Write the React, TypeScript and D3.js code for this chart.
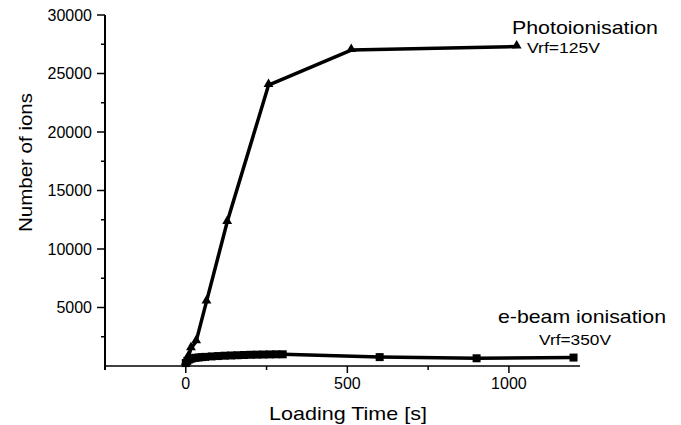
import React from "react";
import * as d3 from "d3";

const photoTime = [0, 8, 16, 32, 64, 128, 256, 512, 1024];
const photoIons = [250, 800, 1500, 2100, 5500, 12300, 24000, 27000, 27300];

const ebeamTime = [0, 5, 10, 15, 20, 30, 40, 50, 60, 80, 100, 120, 140, 160, 180, 200, 220, 240, 260, 280, 300, 600, 900, 1200];
const ebeamIons = [250, 450, 560, 620, 660, 700, 730, 760, 780, 820, 850, 880, 900, 920, 940, 960, 970, 980, 990, 1000, 1000, 760, 660, 720];

const xMajorTicks = [0, 500, 1000];
const xMinorTicks = [-250, 250, 750];
const yMajorTicks = [5000, 10000, 15000, 20000, 25000, 30000];
const yMinorTicks = [2500, 7500, 12500, 17500, 22500, 27500];

const FONT = "'Liberation Sans', Arial, Helvetica, sans-serif";

export default function App() {
  const W = 681, H = 425;
  const x = d3.scaleLinear().domain([-250, 1220]).range([105, 580]);
  const y = d3.scaleLinear().domain([0, 30000]).range([366, 15]);
  const line = d3.line<[number, number]>().x(d => x(d[0])).y(d => y(d[1]));
  const photo: [number, number][] = photoTime.map((t, i) => [t, photoIons[i]]);
  const ebeam: [number, number][] = ebeamTime.map((t, i) => [t, ebeamIons[i]]);
  const tri = d3.symbol().type(d3.symbolTriangle).size(42)();
  const x0 = x.range()[0];
  const y0 = y.range()[0];

  return (
    <svg width={W} height={H} style={{ position: "absolute", left: 0, top: 0, background: "#fff" }} fontFamily={FONT}>
      <rect x={0} y={0} width={W} height={H} fill="#fff" />
      {/* data */}
      <path d={line(ebeam) || ""} fill="none" stroke="#000" strokeWidth={3.5} strokeLinejoin="round" />
      {ebeam.map((d, i) => (
        <rect key={"e" + i} x={x(d[0]) - 4} y={y(d[1]) - 4} width={8} height={8} fill="#000" />
      ))}
      <path d={line(photo) || ""} fill="none" stroke="#000" strokeWidth={3.5} strokeLinejoin="round" />
      {photo.map((d, i) => (
        <path key={"p" + i} d={tri || ""} transform={`translate(${x(d[0])},${y(d[1]) - 1})`} fill="#000" />
      ))}
      {/* axes */}
      <line x1={x0} x2={x0} y1={15} y2={y0 + 4} stroke="#000" strokeWidth={2} />
      <line x1={x0} x2={x.range()[1]} y1={y0} y2={y0} stroke="#000" strokeWidth={1.5} />
      {yMajorTicks.map(v => (
        <g key={"ym" + v}>
          <line x1={x0 - 8} x2={x0} y1={y(v)} y2={y(v)} stroke="#000" strokeWidth={1.5} />
          <text x={x0 - 13} y={y(v)} dy="0.36em" textAnchor="end" fontSize={16}>{v}</text>
        </g>
      ))}
      {yMinorTicks.map(v => (
        <line key={"yn" + v} x1={x0 - 4} x2={x0} y1={y(v)} y2={y(v)} stroke="#000" strokeWidth={1.5} />
      ))}
      {xMajorTicks.map(v => (
        <g key={"xm" + v}>
          <line x1={x(v)} x2={x(v)} y1={y0} y2={y0 + 7} stroke="#000" strokeWidth={1.5} />
          <text x={x(v)} y={389} textAnchor="middle" fontSize={16}>{v}</text>
        </g>
      ))}
      {xMinorTicks.map(v => (
        <line key={"xn" + v} x1={x(v)} x2={x(v)} y1={y0} y2={y0 + 4} stroke="#000" strokeWidth={1.5} />
      ))}
      {/* axis titles */}
      <text x={348} y={420} textAnchor="middle" fontSize={19} textLength={158} lengthAdjust="spacingAndGlyphs">Loading Time [s]</text>
      <text transform="translate(32,162.5) rotate(-90)" textAnchor="middle" fontSize={19} textLength={139} lengthAdjust="spacingAndGlyphs">Number of ions</text>
      {/* annotations */}
      <text x={512} y={34} fontSize={18.5} textLength={146} lengthAdjust="spacingAndGlyphs">Photoionisation</text>
      <text x={527} y={53} fontSize={15} textLength={73} lengthAdjust="spacingAndGlyphs">Vrf=125V</text>
      <text x={498} y={323} fontSize={18.5} textLength={168} lengthAdjust="spacingAndGlyphs">e-beam ionisation</text>
      <text x={539} y={345} fontSize={15} textLength={72} lengthAdjust="spacingAndGlyphs">Vrf=350V</text>
    </svg>
  );
}
